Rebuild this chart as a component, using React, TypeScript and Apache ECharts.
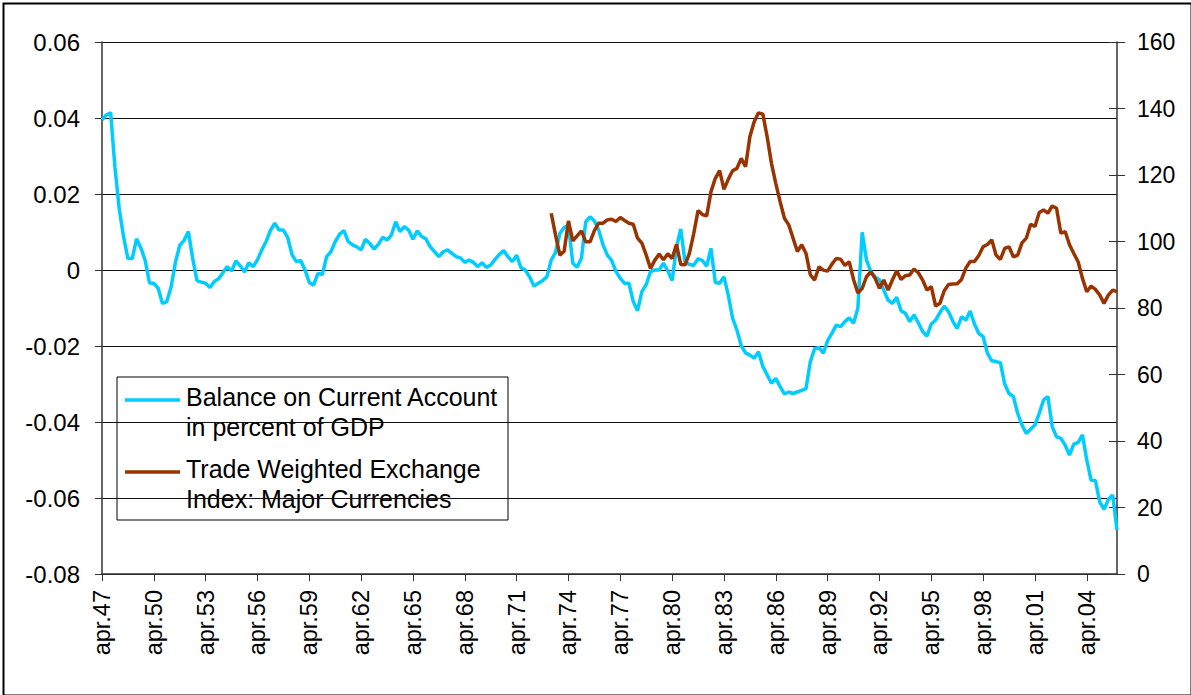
import React, { useEffect, useRef } from "react";
import * as echarts from "echarts";

// Quarterly categories, apr.47 ... jan.06
const monthNames = ["apr", "jul", "okt", "jan"];
const quarterLabels: string[] = [];
for (let i = 0; i < 236; i++) {
  const year = 1947 + Math.floor((i + 1) / 4);
  quarterLabels.push(monthNames[i % 4] + "." + String(year % 100).padStart(2, "0"));
}

const leftTicks = { min: -0.08, max: 0.06, interval: 0.02 };
const rightTicks = { min: 0, max: 160, interval: 20 };

const seriesNames = [
  "Balance on Current Account\nin percent of GDP",
  "Trade Weighted Exchange\nIndex: Major Currencies",
];

// Balance on current account, share of GDP (left axis)
const currentAccount = [
  0.0395, 0.0408, 0.0414, 0.027, 0.016, 0.0087, 0.003, 0.003, 0.0082, 0.0058,
  0.0025, -0.0034, -0.0035, -0.0048, -0.0088, -0.0083, -0.0045, 0.002, 0.0065, 0.0078,
  0.0101, 0.003, -0.0028, -0.0032, -0.0035, -0.0046, -0.003, -0.0023, -0.0007, 0.0009,
  -0.0003, 0.0024, 0.0011, -0.0005, 0.0019, 0.0009, 0.0027, 0.0053, 0.0075, 0.0104,
  0.0123, 0.0105, 0.0105, 0.0085, 0.004, 0.0022, 0.0025, 0.0, -0.0033, -0.004,
  -0.0009, -0.0012, 0.0035, 0.0048, 0.0075, 0.0094, 0.0104, 0.0075, 0.0066, 0.0061,
  0.0053, 0.0081, 0.007, 0.0055, 0.0068, 0.0086, 0.0079, 0.0092, 0.0127, 0.0101,
  0.0114, 0.0105, 0.0081, 0.0103, 0.0088, 0.0082, 0.0061, 0.0048, 0.0035, 0.0048,
  0.0053, 0.0044, 0.0035, 0.0032, 0.002, 0.0026, 0.002, 0.0009, 0.0019, 0.0007,
  0.0013, 0.0028, 0.0041, 0.0051, 0.0035, 0.0022, 0.0039, 0.0006, 0.0, -0.0018,
  -0.0042, -0.0035, -0.0028, -0.0018, 0.0026, 0.0046, 0.0096, 0.0112, 0.0118, 0.0018,
  0.0007, 0.0031, 0.0127, 0.014, 0.0129, 0.0105, 0.0066, 0.0039, 0.0025, -0.0004,
  -0.0022, -0.0035, -0.0035, -0.0083, -0.0107, -0.0057, -0.0038, -0.0004, 0.0, 0.0,
  0.0018, -0.0002, -0.0028, 0.0059, 0.0108, 0.002, 0.0015, 0.0012, 0.003, 0.0025,
  0.001, 0.0057, -0.0033, -0.0035, -0.0018, -0.0066, -0.0127, -0.0158, -0.0199, -0.0218,
  -0.0224, -0.0232, -0.0215, -0.0254, -0.0276, -0.0298, -0.0285, -0.0307, -0.0326, -0.0321,
  -0.0325, -0.0321, -0.0317, -0.0312, -0.0241, -0.0207, -0.0204, -0.0219, -0.0186, -0.0166,
  -0.0145, -0.0149, -0.0136, -0.0126, -0.014, -0.0101, 0.0099, 0.0026, -0.0004, -0.0018,
  -0.0026, -0.0053, -0.0079, -0.0088, -0.0072, -0.0107, -0.0114, -0.0136, -0.0118, -0.0139,
  -0.0162, -0.0174, -0.0142, -0.0132, -0.0112, -0.0095, -0.011, -0.0135, -0.0154, -0.0123,
  -0.0132, -0.0108, -0.0142, -0.0167, -0.0175, -0.0219, -0.0239, -0.0241, -0.0244, -0.03,
  -0.0325, -0.0333, -0.0377, -0.0408, -0.043, -0.0419, -0.0408, -0.0377, -0.0342, -0.0333,
  -0.0412, -0.0439, -0.0443, -0.0461, -0.0487, -0.0458, -0.0454, -0.0434, -0.05, -0.0553,
  -0.0554, -0.061, -0.063, -0.0604, -0.0592, -0.0684,
];

// Trade weighted exchange index (right axis), starting at apr.73
const exchangeStartLabel = "apr.73";
const exchangeIndex = [
  108.5, 102, 95.9, 97.1, 106.2, 100.2, 101.7, 103.2, 99.9, 99.9,
  103.3, 105.5, 105.5, 106.5, 106.7, 106, 107.2, 106.3, 105.5, 105.2,
  101, 99.5, 95.9, 91.9, 94.4, 96.2, 94.5, 96.3, 94.9, 99.1,
  93.1, 93, 96.4, 102.4, 109.3, 108.1, 107.7, 115, 119, 121.3,
  115.7, 118.7, 121.3, 122, 125, 122.5, 131.5, 136, 138.7, 138.3,
  131.5, 123.5, 117.5, 112, 107, 105, 101, 97, 99, 96.4,
  90, 88.4, 92.4, 91.4, 91.1, 93.2, 94.9, 94.7, 92.8, 93.9,
  88.6, 84.5, 85.9, 89.4, 90.9, 88.9, 85.9, 88.4, 85.4, 88.4,
  91.2, 88.6, 89.7, 89.9, 91.7, 90.6, 88.4, 85.4, 86.4, 80.6,
  81.4, 85.2, 87.1, 87.2, 87.3, 88.6, 92, 94, 94, 95.8,
  98.4, 99.1, 100.5, 95.9, 94.6, 97.9, 98.4, 95.4, 95.9, 99.6,
  101, 105.2, 104.5, 108.7, 109.5, 108.5, 110.7, 110, 102.5, 103,
  99, 96.4, 93.9, 88.9, 84.9, 86.6, 85.6, 83.9, 81.4, 83.9,
  85.4, 84.9,
];

const colors = ["#00CCFF", "#993300"];
const FONT = "'Liberation Sans', Arial, sans-serif";

export default function App() {
  const ref = useRef<HTMLDivElement>(null);
  useEffect(() => {
    if (!ref.current) return;
    const chart = echarts.init(ref.current, undefined, { renderer: "svg" });
    const start = quarterLabels.indexOf(exchangeStartLabel);
    const exchangeData = quarterLabels.map((_, i) =>
      i < start || i - start >= exchangeIndex.length ? null : exchangeIndex[i - start]
    );
    const fmtLeft = (v: number) => (Math.abs(v) < 1e-9 ? "0" : v.toFixed(2));
    const legendX = 117, legendY = 377;
    const legendFont = "25px " + FONT;
    chart.setOption({
      animation: false,
      backgroundColor: "#ffffff",
      grid: { left: 102, right: 74, top: 42, bottom: 121, containLabel: false },
      xAxis: {
        type: "category",
        data: quarterLabels,
        boundaryGap: false,
        axisLine: { onZero: false, lineStyle: { color: "#333", width: 1.5 } },
        axisTick: { show: true, interval: 11, length: 7, lineStyle: { color: "#333" } },
        axisLabel: {
          interval: 11,
          rotate: 90,
          margin: 16,
          fontSize: 23.5,
          color: "#000",
          fontFamily: FONT,
        },
        splitLine: { show: false },
      },
      yAxis: [
        {
          type: "value",
          position: "left",
          min: leftTicks.min,
          max: leftTicks.max,
          interval: leftTicks.interval,
          axisLine: { show: true, lineStyle: { color: "#333", width: 1.5 } },
          axisTick: { show: true, length: 7, lineStyle: { color: "#333" } },
          axisLabel: { formatter: fmtLeft, fontSize: 24, color: "#000", fontFamily: FONT, margin: 22 },
          splitLine: { show: true, lineStyle: { color: "#111", width: 1 } },
        },
        {
          type: "value",
          position: "right",
          min: rightTicks.min,
          max: rightTicks.max,
          interval: rightTicks.interval,
          axisLine: { show: true, lineStyle: { color: "#333", width: 1.5 } },
          axisTick: { show: true, length: 8, lineStyle: { color: "#333" } },
          axisLabel: { fontSize: 23, color: "#000", fontFamily: FONT, margin: 20 },
          splitLine: { show: false },
        },
        {
          type: "value",
          position: "right",
          min: rightTicks.min,
          max: rightTicks.max,
          interval: rightTicks.interval,
          axisLine: { show: false },
          axisTick: { show: true, inside: true, length: 8, lineStyle: { color: "#333" } },
          axisLabel: { show: false },
          splitLine: { show: false },
        },
      ],
      series: [
        {
          name: seriesNames[0],
          type: "line",
          yAxisIndex: 0,
          data: currentAccount,
          symbol: "none",
          lineStyle: { color: colors[0], width: 3.5 },
          itemStyle: { color: colors[0] },
          z: 2,
        },
        {
          name: seriesNames[1],
          type: "line",
          yAxisIndex: 1,
          data: exchangeData,
          connectNulls: false,
          symbol: "none",
          lineStyle: { color: colors[1], width: 3.5 },
          itemStyle: { color: colors[1] },
          z: 3,
        },
      ],
      graphic: [
        {
          type: "rect",
          left: 1,
          top: 1,
          shape: { x: 0, y: 0, width: 1188, height: 692 },
          style: { fill: "none", stroke: "#000", lineWidth: 2 },
          z: 0,
          silent: true,
        },
        {
          type: "group",
          x: legendX,
          y: legendY,
          z: 100,
          children: [
            {
              type: "rect",
              shape: { x: 0, y: 0, width: 391, height: 143 },
              style: { fill: "#fff", stroke: "#000", lineWidth: 1 },
            },
            {
              type: "line",
              shape: { x1: 8, y1: 23, x2: 63, y2: 23 },
              style: { stroke: colors[0], lineWidth: 3.5 },
            },
            {
              type: "text",
              x: 69,
              y: 20,
              style: { text: "Balance on Current Account", font: legendFont, fill: "#000", verticalAlign: "middle" },
            },
            {
              type: "text",
              x: 69,
              y: 50,
              style: { text: "in percent of GDP", font: legendFont, fill: "#000", verticalAlign: "middle" },
            },
            {
              type: "line",
              shape: { x1: 8, y1: 95, x2: 63, y2: 95 },
              style: { stroke: colors[1], lineWidth: 3.5 },
            },
            {
              type: "text",
              x: 69,
              y: 92,
              style: { text: "Trade Weighted Exchange", font: legendFont, fill: "#000", verticalAlign: "middle" },
            },
            {
              type: "text",
              x: 69,
              y: 122,
              style: { text: "Index: Major Currencies", font: legendFont, fill: "#000", verticalAlign: "middle" },
            },
          ],
        },
      ],
    });
    return () => chart.dispose();
  }, []);
  return (
    <div
      ref={ref}
      style={{ position: "fixed", left: 0, top: 0, width: 1191, height: 695, background: "#fff" }}
    />
  );
}
